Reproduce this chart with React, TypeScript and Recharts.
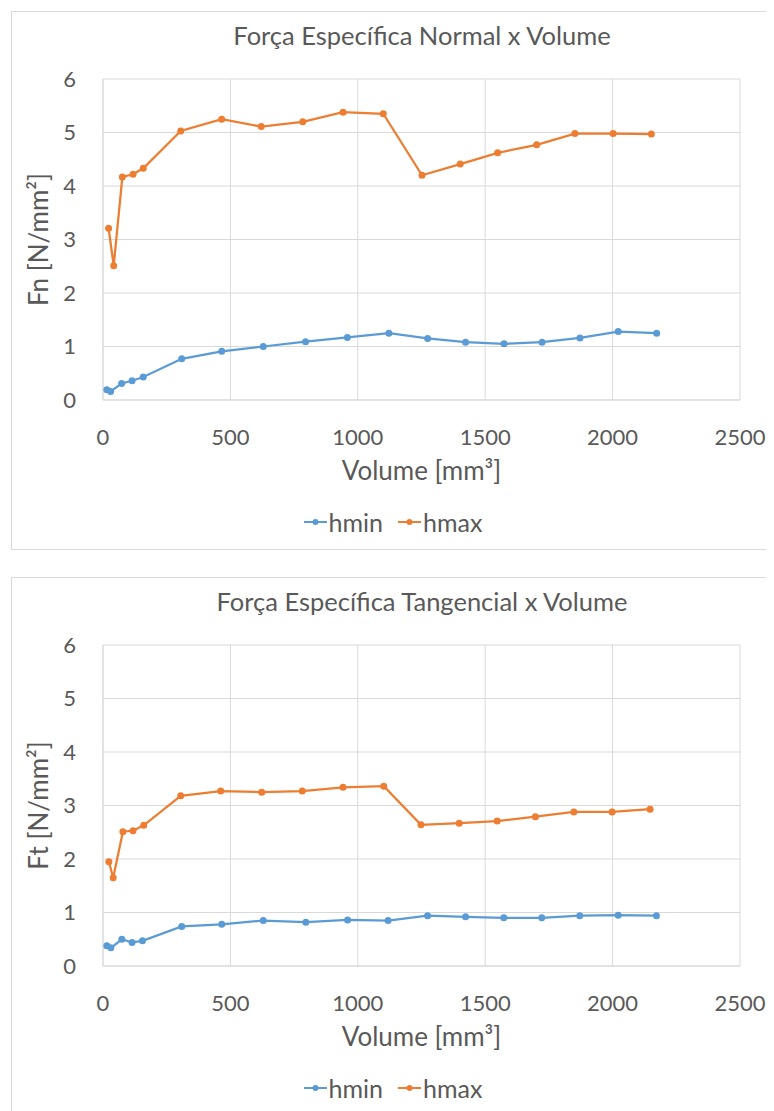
import React, { useEffect } from "react";
import { LineChart, Line, XAxis, YAxis, CartesianGrid, Legend } from "recharts";

// Força específica normal (Fn)
const fnMinVolume = [15, 30, 73, 114, 158, 309, 466, 629, 795, 959, 1122, 1274, 1423, 1574, 1723, 1872, 2022, 2173];
const fnMinValues = [0.19, 0.16, 0.31, 0.36, 0.43, 0.77, 0.91, 1.0, 1.09, 1.17, 1.25, 1.15, 1.08, 1.05, 1.08, 1.16, 1.28, 1.25];
const fnMaxVolume = [22, 42, 76, 118, 158, 305, 466, 621, 784, 942, 1100, 1252, 1402, 1549, 1702, 1852, 2002, 2152];
const fnMaxValues = [3.21, 2.51, 4.17, 4.22, 4.33, 5.03, 5.25, 5.11, 5.2, 5.38, 5.35, 4.2, 4.41, 4.62, 4.77, 4.98, 4.98, 4.97];

// Força específica tangencial (Ft)
const ftMinVolume = [15, 31, 74, 114, 155, 309, 466, 629, 796, 960, 1119, 1274, 1423, 1573, 1722, 1871, 2022, 2172];
const ftMinValues = [0.38, 0.34, 0.5, 0.44, 0.47, 0.74, 0.78, 0.85, 0.82, 0.86, 0.85, 0.94, 0.92, 0.9, 0.9, 0.94, 0.95, 0.94];
const ftMaxVolume = [23, 40, 78, 118, 160, 305, 462, 623, 782, 942, 1102, 1248, 1398, 1547, 1697, 1848, 1998, 2147];
const ftMaxValues = [1.95, 1.65, 2.51, 2.53, 2.63, 3.18, 3.27, 3.25, 3.27, 3.34, 3.36, 2.64, 2.67, 2.71, 2.79, 2.88, 2.88, 2.93];

const xTicks = [0, 500, 1000, 1500, 2000, 2500];
const yTicks = [0, 1, 2, 3, 4, 5, 6];
const seriesNames = ["hmin", "hmax"];

const BLUE = "#5B9BD5";
const ORANGE = "#ED7D31";
const GRID = "#D9D9D9";
const TEXT = "#595959";
const FONT = "Lato, 'Noto Sans', sans-serif";

const W = 762;
const H = 537;

const toPoints = (vols: number[], vals: number[]) => vols.map((v, i) => ({ v, y: vals[i] }));

const renderLegend = () => (
  <div style={{ display: "flex", justifyContent: "center", alignItems: "center", gap: 15, fontSize: 25, color: TEXT, fontFamily: FONT }}>
    {seriesNames.map((name, i) => {
      const c = i === 0 ? BLUE : ORANGE;
      return (
        <span key={name} style={{ display: "flex", alignItems: "center", gap: 2 }}>
          <svg width={23} height={10}>
            <line x1={0} y1={5} x2={23} y2={5} stroke={c} strokeWidth={2} />
            <circle cx={11.5} cy={5} r={3} fill={c} />
          </svg>
          <span>{name}</span>
        </span>
      );
    })}
  </div>
);

function ForceChart({ title, yLabel, minVol, minVals, maxVol, maxVals }: {
  title: string; yLabel: string; minVol: number[]; minVals: number[]; maxVol: number[]; maxVals: number[];
}) {
  return (
    <div style={{ position: "relative", width: 800, height: H, border: `1px solid ${GRID}`, background: "#fff", fontFamily: FONT }}>
      <div style={{ position: "absolute", left: 0, width: 820, top: 8, textAlign: "center", fontSize: 25.5, color: TEXT, whiteSpace: "nowrap" }}>
        {title}
      </div>
      <LineChart width={W} height={H} margin={{ top: 67, right: 34, bottom: 12, left: 0 }}>
        <CartesianGrid stroke={GRID} strokeWidth={1} />
        <XAxis
          type="number"
          dataKey="v"
          domain={[0, 2500]}
          ticks={xTicks}
          interval={0}
          height={107}
          tickLine={false}
          tickSize={0}
          tickMargin={29}
          axisLine={{ stroke: GRID }}
          tick={{ fill: TEXT, fontSize: 22 }}
          label={{ value: "Volume [mm³]", position: "insideTop", offset: 62, fill: TEXT, fontSize: 26 }}
        />
        <YAxis
          type="number"
          domain={[0, 6]}
          ticks={yTicks}
          interval={0}
          width={91}
          tickLine={false}
          tickSize={0}
          tickMargin={27}
          axisLine={{ stroke: GRID }}
          tick={{ fill: TEXT, fontSize: 22 }}
          label={{ value: yLabel, angle: -90, position: "center", dx: -19, fill: TEXT, fontSize: 26 }}
        />
        <Legend verticalAlign="bottom" height={30} content={renderLegend} wrapperStyle={{ left: 0, width: W }} />
        <Line
          data={toPoints(minVol, minVals)}
          dataKey="y"
          name="hmin"
          stroke={BLUE}
          strokeWidth={2.25}
          dot={{ r: 3.5, fill: BLUE, stroke: BLUE, strokeWidth: 0 }}
          isAnimationActive={false}
        />
        <Line
          data={toPoints(maxVol, maxVals)}
          dataKey="y"
          name="hmax"
          stroke={ORANGE}
          strokeWidth={2.25}
          dot={{ r: 3.5, fill: ORANGE, stroke: ORANGE, strokeWidth: 0 }}
          isAnimationActive={false}
        />
      </LineChart>
    </div>
  );
}

export default function App() {
  useEffect(() => {
    document.documentElement.style.overflow = "hidden";
    document.body.style.overflow = "hidden";
  }, []);

  return (
    <div style={{ width: 820, height: 1103, overflow: "hidden" }}>
      <div style={{ marginLeft: 3, marginTop: 3, width: 820 }}>
        <ForceChart title="Força Específica Normal x Volume" yLabel="Fn [N/mm²]"
          minVol={fnMinVolume} minVals={fnMinValues} maxVol={fnMaxVolume} maxVals={fnMaxValues} />
        <div style={{ height: 27 }} />
        <ForceChart title="Força Específica Tangencial x Volume" yLabel="Ft [N/mm²]"
          minVol={ftMinVolume} minVals={ftMinValues} maxVol={ftMaxVolume} maxVals={ftMaxValues} />
      </div>
    </div>
  );
}
